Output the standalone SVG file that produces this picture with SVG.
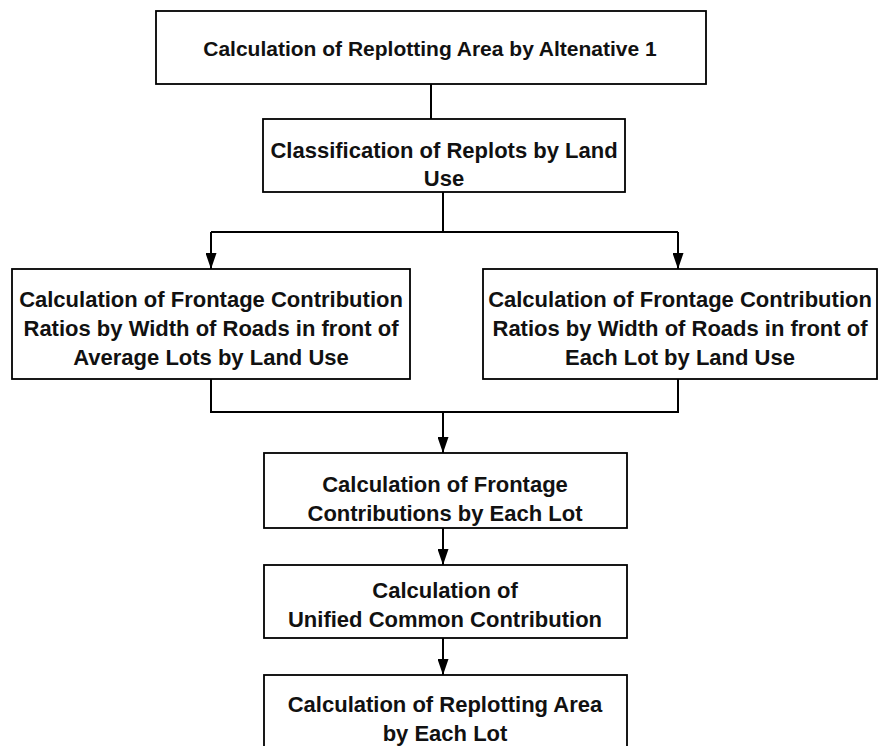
<svg xmlns="http://www.w3.org/2000/svg" width="879" height="746" viewBox="0 0 879 746">
<defs>
<style>
.box{fill:#fff;stroke:#000;stroke-width:1.8}
.t{font-family:"Liberation Sans",Arial,sans-serif;font-weight:bold;font-size:22px;fill:#111;text-anchor:middle}
.c{fill:none;stroke:#000;stroke-width:2}
</style>
<marker id="arr" viewBox="0 0 16 11" refX="16" refY="5.5" markerWidth="16" markerHeight="11" markerUnits="userSpaceOnUse" orient="auto">
<path d="M0,0 L16,5.5 L0,11 z" fill="#000"/>
</marker>
</defs>
<rect width="879" height="746" fill="#fff"/>
<g id="connectors">
<line class="c" x1="431" y1="84" x2="431" y2="119"/>
<line class="c" x1="443" y1="192" x2="443" y2="232"/>
<line class="c" x1="211" y1="232" x2="678" y2="232"/>
<line class="c" x1="211" y1="232" x2="211" y2="269" marker-end="url(#arr)"/>
<line class="c" x1="678" y1="232" x2="678" y2="269" marker-end="url(#arr)"/>
<polyline class="c" points="211,379 211,412 678,412 678,379"/>
<line class="c" x1="443" y1="412" x2="443" y2="453" marker-end="url(#arr)"/>
<line class="c" x1="443" y1="528" x2="443" y2="565" marker-end="url(#arr)"/>
<line class="c" x1="443" y1="638" x2="443" y2="675" marker-end="url(#arr)"/>
</g>
<g id="n1">
<rect class="box" x="156" y="11" width="550" height="73"/>
<text class="t" x="430" y="56" style="font-size:21px">Calculation of Replotting Area by Altenative 1</text>
</g>
<g id="n2">
<rect class="box" x="263" y="119" width="362" height="73"/>
<text class="t" x="444" y="158">Classification of Replots by Land</text>
<text class="t" x="444" y="186">Use</text>
</g>
<g id="n3">
<rect class="box" x="12" y="269" width="398" height="110"/>
<text class="t" x="211" y="307">Calculation of Frontage Contribution</text>
<text class="t" x="211" y="336">Ratios by Width of Roads in front of</text>
<text class="t" x="211" y="365">Average Lots by Land Use</text>
</g>
<g id="n4">
<rect class="box" x="483" y="269" width="394" height="110"/>
<text class="t" x="680" y="307">Calculation of Frontage Contribution</text>
<text class="t" x="680" y="336">Ratios by Width of Roads in front of</text>
<text class="t" x="680" y="365">Each Lot by Land Use</text>
</g>
<g id="n5">
<rect class="box" x="264" y="453" width="363" height="75"/>
<text class="t" x="445" y="492">Calculation of Frontage</text>
<text class="t" x="445" y="521">Contributions by Each Lot</text>
</g>
<g id="n6">
<rect class="box" x="264" y="565" width="363" height="73"/>
<text class="t" x="445" y="598">Calculation of</text>
<text class="t" x="445" y="627">Unified Common Contribution</text>
</g>
<g id="n7">
<rect class="box" x="264" y="675" width="363" height="90"/>
<text class="t" x="445" y="712">Calculation of Replotting Area</text>
<text class="t" x="445" y="741">by Each Lot</text>
</g>
</svg>
